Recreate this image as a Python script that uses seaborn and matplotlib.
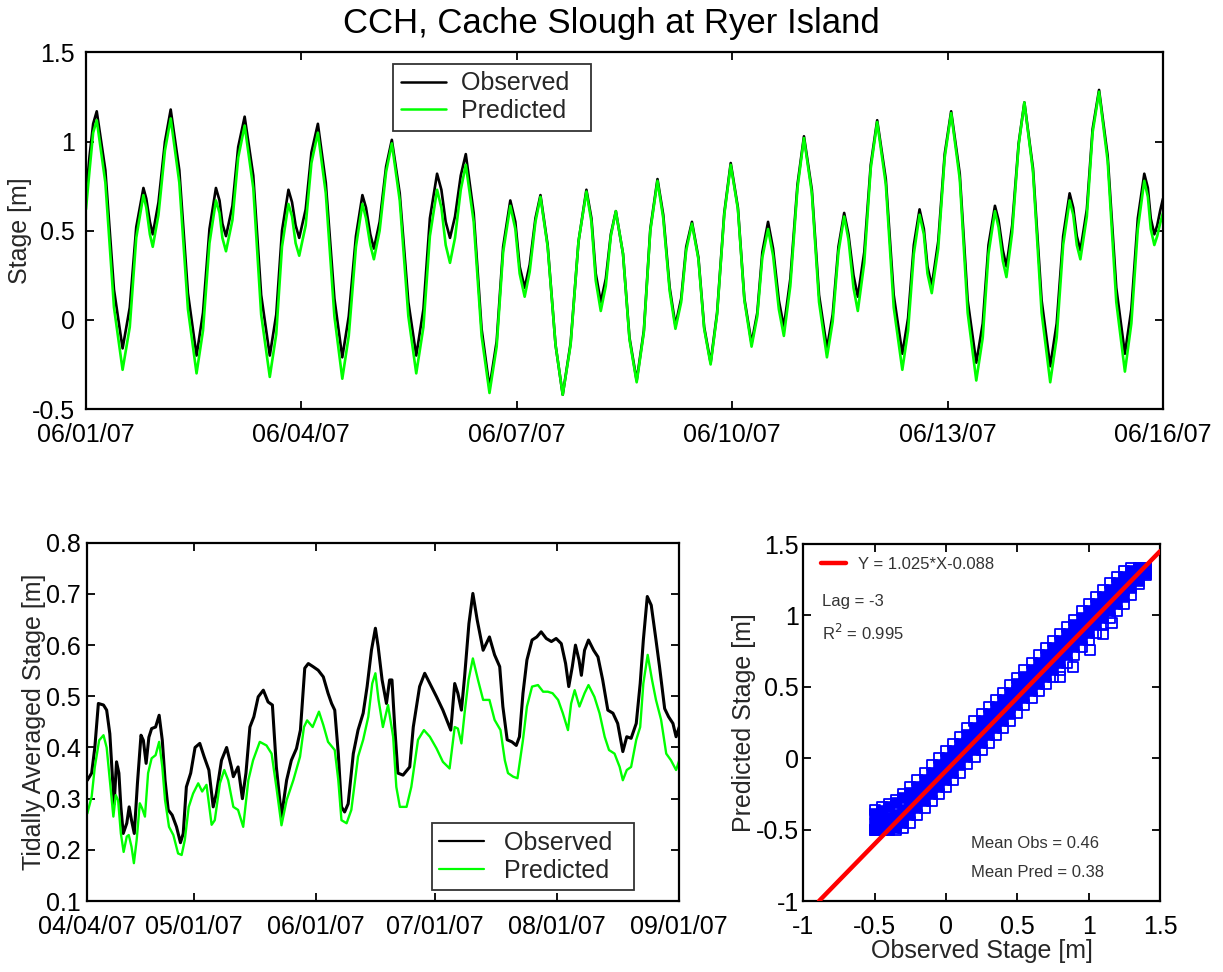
import numpy as np
import pandas as pd
import matplotlib
matplotlib.use('Agg')
import matplotlib.pyplot as plt
import matplotlib.dates as mdates
from matplotlib.ticker import FuncFormatter, FixedLocator
from matplotlib.lines import Line2D
import seaborn as sns

sns.set_theme(style='white')
plt.rcParams['font.family'] = ['Liberation Sans', 'DejaVu Sans']
plt.rcParams['axes.unicode_minus'] = False

# ---------------- data ----------------
title = 'CCH, Cache Slough at Ryer Island'

# top panel: tidal stage, hours (days after 2007-06-01)
top_days = [0,
            0.05, 0.10, 0.15, 0.27, 0.39, 0.51, 0.61, 0.70, 0.80, 0.84, 0.89, 0.93,
            1.01, 1.10, 1.18, 1.30, 1.42, 1.54, 1.63, 1.72, 1.81, 1.86, 1.90, 1.95,
            2.04, 2.12, 2.21, 2.33, 2.44, 2.56, 2.65, 2.73, 2.82, 2.87, 2.92, 2.97,
            3.06, 3.14, 3.23, 3.34, 3.46, 3.57, 3.66, 3.76, 3.85, 3.90, 3.96, 4.01,
            4.09, 4.18, 4.26, 4.37, 4.49, 4.60, 4.70, 4.79, 4.89, 4.95, 5.01, 5.07,
            5.14, 5.22, 5.29, 5.40, 5.51, 5.62, 5.72, 5.81, 5.91, 5.98, 6.04, 6.11,
            6.18, 6.26, 6.33, 6.43, 6.54, 6.64, 6.75, 6.86, 6.97, 7.04, 7.10, 7.17,
            7.24, 7.31, 7.38, 7.48, 7.57, 7.67, 7.77, 7.86, 7.96, 8.04, 8.13, 8.21,
            8.29, 8.36, 8.44, 8.53, 8.61, 8.70, 8.79, 8.89, 8.98, 9.08, 9.17, 9.27,
            9.35, 9.42, 9.50, 9.57, 9.65, 9.72, 9.81, 9.91, 10.0, 10.11, 10.21, 10.32,
            10.40, 10.48, 10.56, 10.62, 10.69, 10.75, 10.84, 10.93, 11.02, 11.14, 11.25, 11.37,
            11.45, 11.53, 11.61, 11.67, 11.72, 11.78, 11.87, 11.96, 12.05, 12.17, 12.28, 12.40,
            12.49, 12.57, 12.66, 12.71, 12.77, 12.82, 12.90, 12.99, 13.07, 13.19, 13.31, 13.43,
            13.52, 13.61, 13.70, 13.75, 13.80, 13.85, 13.94, 14.02, 14.11, 14.23, 14.35, 14.47,
            14.56, 14.65, 14.74, 14.79, 14.83, 14.88, 14.92, 14.96, 15.0]
top_obs = [0.70,
           0.92, 1.10, 1.17, 0.84, 0.17, -0.16, 0.07, 0.52, 0.74, 0.68, 0.55, 0.48,
           0.66, 1.00, 1.18, 0.84, 0.15, -0.20, 0.04, 0.51, 0.74, 0.67, 0.54, 0.47,
           0.64, 0.97, 1.14, 0.81, 0.14, -0.20, 0.03, 0.50, 0.73, 0.66, 0.53, 0.46,
           0.62, 0.94, 1.10, 0.77, 0.12, -0.21, 0.02, 0.47, 0.70, 0.63, 0.48, 0.40,
           0.55, 0.86, 1.01, 0.71, 0.10, -0.20, 0.06, 0.57, 0.82, 0.73, 0.55, 0.46,
           0.58, 0.81, 0.93, 0.60, -0.05, -0.38, -0.12, 0.41, 0.67, 0.55, 0.30, 0.18,
           0.31, 0.57, 0.70, 0.42, -0.14, -0.42, -0.13, 0.44, 0.73, 0.57, 0.26, 0.10,
           0.23, 0.48, 0.61, 0.37, -0.10, -0.34, -0.06, 0.51, 0.79, 0.59, 0.18, -0.03,
           0.12, 0.41, 0.55, 0.35, -0.04, -0.24, 0.04, 0.60, 0.88, 0.63, 0.12, -0.13,
           0.04, 0.38, 0.55, 0.40, 0.11, -0.04, 0.23, 0.76, 1.03, 0.73, 0.14, -0.16,
           0.03, 0.41, 0.60, 0.48, 0.25, 0.13, 0.38, 0.87, 1.12, 0.79, 0.14, -0.19,
           0.01, 0.42, 0.62, 0.51, 0.30, 0.19, 0.44, 0.93, 1.17, 0.82, 0.11, -0.24,
           -0.02, 0.42, 0.64, 0.56, 0.39, 0.30, 0.53, 0.99, 1.22, 0.85, 0.11, -0.26,
           -0.02, 0.47, 0.71, 0.63, 0.47, 0.39, 0.62, 1.07, 1.29, 0.92, 0.18, -0.19,
           0.06, 0.57, 0.82, 0.74, 0.57, 0.48, 0.53, 0.61, 0.68]
top_pred = [0.62,
            0.84, 1.05, 1.12, 0.77, 0.07, -0.28, -0.04, 0.46, 0.70, 0.63, 0.48, 0.41,
            0.59, 0.95, 1.13, 0.77, 0.06, -0.30, -0.06, 0.43, 0.67, 0.60, 0.46, 0.385,
            0.56, 0.91, 1.09, 0.74, 0.03, -0.32, -0.08, 0.41, 0.65, 0.58, 0.43, 0.36,
            0.53, 0.88, 1.05, 0.71, 0.02, -0.33, -0.09, 0.41, 0.65, 0.57, 0.42, 0.34,
            0.50, 0.83, 0.99, 0.67, 0.02, -0.30, -0.04, 0.47, 0.73, 0.63, 0.42, 0.32,
            0.46, 0.73, 0.87, 0.55, -0.09, -0.41, -0.15, 0.38, 0.64, 0.51, 0.26, 0.13,
            0.27, 0.55, 0.69, 0.41, -0.14, -0.42, -0.14, 0.44, 0.72, 0.55, 0.22, 0.05,
            0.19, 0.47, 0.61, 0.37, -0.11, -0.35, -0.07, 0.50, 0.78, 0.57, 0.16, -0.05,
            0.10, 0.39, 0.54, 0.34, -0.05, -0.25, 0.03, 0.59, 0.87, 0.62, 0.11, -0.15,
            0.02, 0.35, 0.51, 0.36, 0.06, -0.09, 0.19, 0.74, 1.02, 0.71, 0.10, -0.21,
            -0.01, 0.38, 0.58, 0.45, 0.18, 0.05, 0.32, 0.85, 1.11, 0.76, 0.07, -0.28,
            -0.06, 0.37, 0.59, 0.48, 0.26, 0.15, 0.40, 0.91, 1.16, 0.79, 0.04, -0.34,
            -0.10, 0.37, 0.61, 0.52, 0.33, 0.24, 0.49, 0.98, 1.22, 0.83, 0.04, -0.35,
            -0.10, 0.42, 0.67, 0.59, 0.42, 0.34, 0.58, 1.05, 1.28, 0.89, 0.10, -0.29,
            -0.02, 0.51, 0.78, 0.69, 0.51, 0.42, 0.47, 0.54, 0.60]
top_ticks = ['2007-06-01', '2007-06-04', '2007-06-07', '2007-06-10', '2007-06-13', '2007-06-16']

# bottom-left: tidally averaged stage (days after 2007-04-04)
ta_obs_days = [0, 1.1, 1.9, 2.8, 4.1, 4.9, 5.7, 6.3, 6.8, 7.4, 8.0, 8.5, 9.1, 10.0, 10.6, 11.2, 11.9,
               12.7, 13.6, 14.2, 14.9, 15.6, 16.3, 17.3, 18.2, 19.0, 19.7, 20.5, 21.5, 22.6, 23.6,
               24.3, 25.1, 26.2, 27.3, 28.5, 29.6, 30.8, 31.9, 32.7, 34.0, 35.3, 36.5, 37.0, 38.2,
               39.3, 40.2, 41.2, 42.2, 43.3, 44.6, 45.8, 46.9, 47.9, 49.2, 50.5, 51.7, 53.0, 54.0,
               55.1, 56.0, 57.2, 58.5, 59.8, 61.0, 61.9, 62.7, 63.6, 64.4, 65.2, 66.1, 67.4, 68.6,
               69.9, 70.9, 72.0, 73.0, 73.7, 74.7, 75.8, 76.6, 77.2, 77.9, 78.7, 80.0, 81.7, 82.6,
               84.2, 85.5, 86.8, 88.5, 90.1, 92.1, 93.1, 93.9, 94.8, 95.6, 96.7, 97.7, 98.8, 100.3,
               101.9, 103.2, 104.5, 105.3, 106.4, 107.6, 108.7, 109.5, 110.4, 111.4, 112.7, 113.9,
               115.0, 116.3, 117.6, 118.8, 120.1, 121.2, 122.0, 122.9, 123.7, 124.6, 125.2, 126.0,
               127.0, 128.3, 129.4, 130.6, 131.9, 133.2, 134.4, 135.7, 136.7, 137.8, 139.1, 140.1,
               140.9, 141.9, 142.9, 144.0, 145.0, 146.3, 147.3, 148.4, 149.2, 150.0]
ta_obs = [0.336, 0.35, 0.40, 0.486, 0.483, 0.473, 0.427, 0.35, 0.29, 0.372, 0.35, 0.284, 0.232, 0.252,
          0.284, 0.258, 0.232, 0.33, 0.424, 0.414, 0.369, 0.42, 0.437, 0.44, 0.463, 0.414, 0.336,
          0.278, 0.268, 0.245, 0.214, 0.232, 0.323, 0.35, 0.40, 0.408, 0.382, 0.356, 0.284, 0.31,
          0.375, 0.40, 0.362, 0.343, 0.362, 0.30, 0.35, 0.44, 0.46, 0.499, 0.512, 0.489, 0.483,
          0.362, 0.265, 0.336, 0.375, 0.398, 0.434, 0.555, 0.564, 0.558, 0.551, 0.538, 0.506, 0.486,
          0.473, 0.388, 0.284, 0.274, 0.29, 0.388, 0.434, 0.467, 0.519, 0.59, 0.633, 0.597, 0.532,
          0.486, 0.532, 0.532, 0.44, 0.35, 0.346, 0.362, 0.44, 0.519, 0.545, 0.525, 0.499, 0.473,
          0.434, 0.525, 0.506, 0.473, 0.538, 0.642, 0.701, 0.649, 0.59, 0.616, 0.581, 0.558, 0.48,
          0.415, 0.411, 0.404, 0.421, 0.506, 0.571, 0.61, 0.616, 0.626, 0.613, 0.607, 0.613, 0.603,
          0.564, 0.519, 0.558, 0.60, 0.571, 0.541, 0.59, 0.61, 0.59, 0.577, 0.532, 0.473, 0.467,
          0.447, 0.392, 0.421, 0.418, 0.447, 0.525, 0.61, 0.695, 0.678, 0.616, 0.558, 0.476, 0.46,
          0.447, 0.421, 0.44]
ta_pred_days = [0, 1.1, 1.9, 3.0, 4.1, 4.9, 5.7, 6.6, 7.2, 7.8, 8.5, 9.2, 10.0, 10.5, 11.2, 11.8,
                12.5, 13.3, 13.9, 14.6, 15.4, 16.3, 17.3, 18.2, 19.0, 19.7, 20.7, 21.8, 23.0, 23.9,
                24.7, 25.7, 26.8, 28.1, 29.1, 30.2, 31.5, 32.3, 33.6, 34.7, 35.7, 37.0, 38.2, 39.5,
                40.8, 42.0, 43.7, 45.4, 46.7, 47.9, 49.2, 50.5, 52.2, 53.9, 54.9, 55.7, 57.1, 58.7,
                59.8, 61.0, 62.7, 63.6, 64.4, 65.7, 66.9, 68.6, 69.9, 71.2, 72.2, 73.0, 73.8, 74.9,
                76.2, 77.5, 78.3, 79.2, 80.9, 82.1, 83.8, 85.3, 86.8, 88.5, 90.1, 91.8, 93.1, 93.9,
                94.8, 95.6, 96.6, 97.7, 99.0, 100.3, 101.9, 103.2, 104.7, 105.8, 106.6, 107.9, 109.0,
                110.4, 111.4, 112.7, 114.2, 115.5, 116.7, 117.9, 119.3, 120.5, 121.8, 122.6, 123.5,
                124.7, 126.0, 127.0, 128.5, 129.8, 131.1, 132.2, 133.6, 134.9, 135.7, 136.7, 137.8,
                139.1, 140.1, 140.9, 142.0, 143.1, 144.1, 145.4, 146.7, 147.9, 149.2, 150.0]
ta_pred = [0.271, 0.304, 0.362, 0.414, 0.424, 0.40, 0.336, 0.265, 0.307, 0.297, 0.232, 0.196, 0.226,
           0.229, 0.206, 0.174, 0.219, 0.291, 0.281, 0.265, 0.35, 0.379, 0.385, 0.411, 0.362, 0.297,
           0.245, 0.229, 0.193, 0.190, 0.219, 0.284, 0.31, 0.33, 0.314, 0.327, 0.249, 0.258, 0.33,
           0.356, 0.336, 0.284, 0.278, 0.245, 0.336, 0.375, 0.411, 0.404, 0.388, 0.323, 0.248, 0.297,
           0.336, 0.382, 0.44, 0.453, 0.44, 0.47, 0.444, 0.411, 0.395, 0.336, 0.258, 0.252, 0.278,
           0.382, 0.415, 0.46, 0.525, 0.545, 0.493, 0.44, 0.483, 0.421, 0.323, 0.284, 0.284, 0.323,
           0.415, 0.434, 0.421, 0.398, 0.372, 0.359, 0.44, 0.437, 0.408, 0.467, 0.532, 0.574, 0.532,
           0.493, 0.493, 0.454, 0.434, 0.375, 0.35, 0.343, 0.34, 0.415, 0.48, 0.519, 0.522, 0.509,
           0.509, 0.506, 0.493, 0.467, 0.434, 0.486, 0.512, 0.48, 0.506, 0.522, 0.499, 0.467, 0.421,
           0.395, 0.388, 0.362, 0.336, 0.356, 0.362, 0.415, 0.44, 0.525, 0.581, 0.532, 0.493, 0.454,
           0.388, 0.375, 0.356, 0.375]
ta_ticks = ['2007-04-04', '2007-05-01', '2007-06-01', '2007-07-01', '2007-08-01', '2007-09-01']

# bottom-right: scatter of observed vs predicted stage (band)
sc_obs = [-0.50, -0.45, -0.40, -0.35, -0.30, -0.25, -0.20, -0.15, -0.10, -0.05, 0.00, 0.05, 0.10,
          0.15, 0.20, 0.25, 0.30, 0.35, 0.40, 0.45, 0.50, 0.55, 0.60, 0.65, 0.70, 0.75, 0.80, 0.85,
          0.90, 0.95, 1.00, 1.05, 1.10, 1.15, 1.20, 1.25, 1.30, 1.35, 1.40]
sc_pred_top = [-0.36, -0.34, -0.32, -0.29, -0.25, -0.20, -0.15, -0.10, -0.05, 0.00, 0.05, 0.10,
               0.15, 0.21, 0.26, 0.31, 0.36, 0.41, 0.46, 0.51, 0.56, 0.62, 0.67, 0.72, 0.77, 0.82,
               0.87, 0.92, 0.97, 1.03, 1.08, 1.13, 1.18, 1.23, 1.27, 1.31, 1.33, 1.33, 1.33]
sc_pred_hi = [-0.39, -0.37, -0.34, -0.31, -0.28, -0.24, -0.20, -0.15, -0.10, -0.05, 0.00, 0.05,
              0.10, 0.16, 0.21, 0.26, 0.31, 0.36, 0.41, 0.46, 0.52, 0.57, 0.62, 0.67, 0.72, 0.77,
              0.82, 0.87, 0.93, 0.98, 1.03, 1.08, 1.13, 1.18, 1.23, 1.27, 1.31, 1.33, 1.33]
sc_pred_c1 = [-0.46, -0.44, -0.42, -0.40, -0.36, -0.30, -0.25, -0.20, -0.15, -0.10, -0.05, 0.00,
              0.06, 0.11, 0.16, 0.21, 0.26, 0.31, 0.36, 0.41, 0.47, 0.52, 0.57, 0.62, 0.67, 0.72,
              0.77, 0.82, 0.88, 0.93, 0.98, 1.03, 1.08, 1.13, 1.18, 1.23, 1.28, 1.31, 1.32]
sc_pred_c2 = [-0.50, -0.48, -0.46, -0.44, -0.41, -0.35, -0.30, -0.25, -0.20, -0.15, -0.10, -0.05,
              0.01, 0.06, 0.11, 0.16, 0.21, 0.26, 0.31, 0.36, 0.42, 0.47, 0.52, 0.57, 0.62, 0.67,
              0.72, 0.77, 0.83, 0.88, 0.93, 0.98, 1.03, 1.08, 1.13, 1.18, 1.24, 1.28, 1.31]
sc_pred_c3 = [-0.50, -0.50, -0.50, -0.49, -0.45, -0.40, -0.35, -0.30, -0.25, -0.20, -0.15, -0.10,
              -0.05, 0.01, 0.06, 0.11, 0.16, 0.21, 0.26, 0.31, 0.37, 0.42, 0.47, 0.52, 0.57, 0.62,
              0.67, 0.72, 0.78, 0.83, 0.88, 0.93, 0.98, 1.03, 1.08, 1.13, 1.19, 1.24, 1.29]
sc_pred_lo = [-0.50, -0.50, -0.50, -0.50, -0.49, -0.45, -0.40, -0.35, -0.30, -0.25, -0.20, -0.15,
              -0.10, -0.04, 0.01, 0.06, 0.11, 0.16, 0.21, 0.26, 0.32, 0.37, 0.42, 0.47, 0.52, 0.57,
              0.62, 0.67, 0.72, 0.78, 0.83, 0.88, 0.93, 0.98, 1.03, 1.08, 1.14, 1.22, 1.28]
sc_out_obs = [0.80, 0.89, 1.01, 1.10, 1.16]
sc_out_pred = [0.57, 0.64, 0.76, 0.87, 0.95]
fit_slope = 1.025
fit_intercept = -0.088
lag_hours = -3
r_squared = 0.995
mean_obs = 0.46
mean_pred = 0.38

# ---------------- figure ----------------
BLACK = '#000000'
GREEN = '#00ff00'
BLUE = '#0000ff'
RED = '#ff0000'
FS = 18

fig = plt.figure(figsize=(12.23, 9.72), dpi=100)
fig.patch.set_facecolor('white')
ax1 = fig.add_axes([0.0703, 0.5792, 0.8806, 0.3668])
ax2 = fig.add_axes([0.0714, 0.0730, 0.4840, 0.3686])
ax3 = fig.add_axes([0.6568, 0.0730, 0.2917, 0.3673])

def style(ax, ypad=8, xpad=10):
    ax.set_facecolor('white')
    for s in ax.spines.values():
        s.set_visible(True)
        s.set_color('black')
        s.set_linewidth(1.6)
    ax.tick_params(direction='in', length=6, width=1.3, colors='black', labelsize=FS,
                   top=True, right=True, bottom=True, left=True)
    ax.tick_params(axis='x', pad=xpad)
    ax.tick_params(axis='y', pad=ypad)
    ax.grid(False)

gfmt = FuncFormatter(lambda v, p: '%g' % round(v, 3))

# --- top panel ---
t0 = pd.Timestamp('2007-06-01')
df_top = pd.DataFrame({'time': t0 + pd.to_timedelta(top_days, unit='D'),
                       'Observed': top_obs, 'Predicted': top_pred})
df_top_long = df_top.melt(id_vars='time', var_name='series', value_name='stage')
sns.lineplot(data=df_top_long, x='time', y='stage', hue='series',
             palette={'Observed': BLACK, 'Predicted': GREEN}, hue_order=['Observed', 'Predicted'],
             estimator=None, linewidth=1.9, legend=False, ax=ax1)
style(ax1, ypad=8, xpad=10)
ax1.set_xlim(pd.Timestamp('2007-06-01'), pd.Timestamp('2007-06-16'))
ax1.set_ylim(-0.5, 1.5)
ax1.xaxis.set_major_locator(FixedLocator(mdates.date2num(pd.to_datetime(top_ticks))))
ax1.xaxis.set_major_formatter(mdates.DateFormatter('%m/%d/%y'))
ax1.yaxis.set_major_locator(FixedLocator([-0.5, 0, 0.5, 1, 1.5]))
ax1.yaxis.set_major_formatter(gfmt)
ax1.set_xlabel('')
ax1.set_ylabel('Stage [m]', fontsize=FS, labelpad=0)
leg1 = ax1.legend([Line2D([], [], color=BLACK, lw=1.8), Line2D([], [], color=GREEN, lw=1.8)],
                  ['Observed  ', 'Predicted  '], loc='upper left',
                  bbox_to_anchor=(0.2855, 0.968), fontsize=FS, frameon=True, fancybox=False,
                  borderaxespad=0, handlelength=1.8, handletextpad=0.6, borderpad=0.3,
                  labelspacing=0.15)
leg1.get_frame().set_edgecolor('black')
leg1.get_frame().set_linewidth(1.3)

# --- bottom-left panel ---
t1 = pd.Timestamp('2007-04-04')
df_ta_obs = pd.DataFrame({'time': t1 + pd.to_timedelta(ta_obs_days, unit='D'), 'stage': ta_obs})
df_ta_pred = pd.DataFrame({'time': t1 + pd.to_timedelta(ta_pred_days, unit='D'), 'stage': ta_pred})
sns.lineplot(data=df_ta_obs, x='time', y='stage', color=BLACK, linewidth=2.2,
             estimator=None, ax=ax2)
sns.lineplot(data=df_ta_pred, x='time', y='stage', color=GREEN, linewidth=1.7,
             estimator=None, ax=ax2)
style(ax2, ypad=5, xpad=10)
ax2.set_xlim(pd.Timestamp('2007-04-04'), pd.Timestamp('2007-09-01'))
ax2.set_ylim(0.1, 0.8)
ax2.xaxis.set_major_locator(FixedLocator(mdates.date2num(pd.to_datetime(ta_ticks))))
ax2.xaxis.set_major_formatter(mdates.DateFormatter('%m/%d/%y'))
ax2.yaxis.set_major_locator(FixedLocator([0.1, 0.2, 0.3, 0.4, 0.5, 0.6, 0.7, 0.8]))
ax2.yaxis.set_major_formatter(gfmt)
ax2.set_xlabel('')
ax2.set_ylabel('Tidally Averaged Stage [m]', fontsize=FS, labelpad=0)
leg2 = ax2.legend([Line2D([], [], color=BLACK, lw=1.6), Line2D([], [], color=GREEN, lw=1.6)],
                  ['Observed  ', 'Predicted  '], loc='upper left', bbox_to_anchor=(0.582, 0.217),
                  fontsize=FS, frameon=True, fancybox=False, borderaxespad=0, handlelength=1.8,
                  handletextpad=0.8, borderpad=0.3, labelspacing=0.15)
leg2.get_frame().set_edgecolor('black')
leg2.get_frame().set_linewidth(1.3)

# --- scatter panel ---
df_edge = pd.DataFrame({'obs': sc_obs * 2 + sc_out_obs,
                        'pred': sc_pred_lo + sc_pred_top + sc_out_pred})
df_core = pd.DataFrame({'obs': sc_obs * 4,
                        'pred': sc_pred_hi + sc_pred_c1 + sc_pred_c2 + sc_pred_c3})
sns.scatterplot(data=df_core, x='obs', y='pred', marker='s', s=62, color=BLUE,
                edgecolor=BLUE, linewidth=1.2, legend=False, ax=ax3)
sns.scatterplot(data=df_edge, x='obs', y='pred', marker='s', s=52, facecolors='none',
                edgecolor=BLUE, linewidth=1.3, legend=False, ax=ax3)
style(ax3, ypad=3, xpad=10)
ax3.set_xlim(-1, 1.5)
ax3.set_ylim(-1, 1.5)
ax3.axline((0, fit_intercept), slope=fit_slope, color=RED, lw=3.2, zorder=5)
ax3.xaxis.set_major_locator(FixedLocator([-1, -0.5, 0, 0.5, 1, 1.5]))
ax3.yaxis.set_major_locator(FixedLocator([-1, -0.5, 0, 0.5, 1, 1.5]))
ax3.xaxis.set_major_formatter(gfmt)
ax3.yaxis.set_major_formatter(gfmt)
ax3.set_xlabel('Observed Stage [m]', fontsize=FS, labelpad=0)
ax3.set_ylabel('Predicted Stage [m]', fontsize=FS, labelpad=0)
TXT = '#333333'
leg3 = ax3.legend([Line2D([], [], color=RED, lw=3.2)],
                  ['Y = %.3f*X%.3f' % (fit_slope, fit_intercept)], loc='upper left',
                  bbox_to_anchor=(0.05, 0.963), frameon=False, fontsize=12,
                  handlelength=1.5, handletextpad=0.7, borderaxespad=0, borderpad=0)
for t in leg3.get_texts():
    t.set_color(TXT)
ax3.text(-0.871, 1.096, 'Lag = %d' % lag_hours, fontsize=12, color=TXT, va='center', ha='left')
ax3.text(-0.871, 0.879, r'R$^2$ = %.3f' % r_squared, fontsize=12, color=TXT, va='center', ha='left')
ax3.text(0.173, -0.60, 'Mean Obs = %.2f' % mean_obs, fontsize=12, color=TXT, va='center', ha='left')
ax3.text(0.173, -0.80, 'Mean Pred = %.2f' % mean_pred, fontsize=12, color=TXT, va='center', ha='left')

fig.text(0.5, 1 - 23 / 972, title, ha='center', va='center', fontsize=25, color='black')

fig.savefig('out.png', dpi=100, facecolor='white')
